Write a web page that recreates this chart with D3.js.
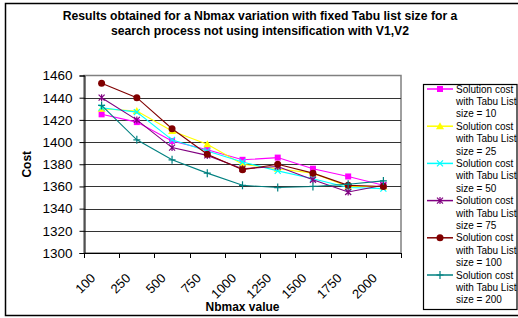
<!DOCTYPE html>
<html><head><meta charset="utf-8">
<script src="https://cdn.jsdelivr.net/npm/d3@7"></script>
<style>
body{margin:0;background:#fff}
svg{display:block}
text{font-family:"Liberation Sans",Arial,sans-serif;fill:#000}
</style></head>
<body><svg id="chart" width="518" height="318"></svg>
<script>
const categories = ["100","250","500","750","1000","1250","1500","1750","2000"];
const size10  = [1425,1418,1401,1393,1384,1386,1376,1369,1361];
const size25  = [1430,1428,1410,1398,1380,1376,1372,1360,1360];
const size50  = [1431,1427,1402,1392,1382,1374,1367,1359,1358];
const size75  = [1440,1420,1395,1388,1376,1378,1366,1355,1361];
const size100 = [1453,1440,1412,1389,1375,1380,1372,1361,1360];
const size200 = [1433,1402,1384,1372,1361,1359,1360,1362,1365];
const seriesLabels = ["size = 10","size = 25","size = 50","size = 75","size = 100","size = 200"];
const yTicks = [1300,1320,1340,1360,1380,1400,1420,1440,1460];
const titleLines = ["Results obtained for a Nbmax variation with fixed Tabu list size for a",
                    "search process not using intensification with V1,V2"];

const series = [
  {values:size10,  color:"#FF00FF", marker:"square"},
  {values:size25,  color:"#FFFF00", marker:"triangle"},
  {values:size50,  color:"#00FFFF", marker:"x"},
  {values:size75,  color:"#800080", marker:"star"},
  {values:size100, color:"#800000", marker:"circle"},
  {values:size200, color:"#008080", marker:"plus"}
].map((s,i)=>({...s,label:seriesLabels[i]}));

const svg = d3.select("#chart");
// outer chart border
svg.append("rect").attr("x",5.5).attr("y",3.5).attr("width",600).attr("height",312)
  .attr("fill","#fff").attr("stroke","#000").attr("stroke-width",1.5);

const x = d3.scaleBand().domain(categories).range([84,401]).padding(0);
const y = d3.scaleLinear().domain([1300,1460]).range([253,75.5]);

// plot area border
svg.append("rect").attr("x",84).attr("y",y(1460)).attr("width",401-84).attr("height",y(1300)-y(1460))
  .attr("fill","#fff").attr("stroke","#808080").attr("stroke-width",1.5);

// gridlines
svg.append("g").selectAll("line").data(yTicks.filter(d=>d>1300 && d<1460)).join("line")
  .attr("x1",84).attr("x2",401).attr("y1",d=>Math.round(y(d))+0.5).attr("y2",d=>Math.round(y(d))+0.5)
  .attr("stroke","#333").attr("stroke-width",1);

// y axis
const ya = svg.append("g").attr("transform","translate(84.5,0)")
  .call(d3.axisLeft(y).tickValues(yTicks).tickSize(5).tickPadding(7).tickFormat(d3.format("d")));
ya.select(".domain").attr("stroke","#000");
ya.selectAll(".tick line").attr("stroke","#000");
ya.selectAll("text").attr("font-size",13.5).attr("font-family","Liberation Sans, Arial, sans-serif");

// x axis line
svg.append("line").attr("x1",84).attr("x2",401).attr("y1",253.5).attr("y2",253.5).attr("stroke","#000");
const bounds = categories.map(c=>x(c)).concat([x.range()[1]]);
svg.append("g").selectAll("line").data(bounds).join("line")
  .attr("x1",d=>Math.round(d)+0.5).attr("x2",d=>Math.round(d)+0.5).attr("y1",253).attr("y2",258)
  .attr("stroke","#000");
svg.append("g").selectAll("text").data(categories).join("text")
  .attr("transform",d=>`translate(${x(d)+x.bandwidth()/2-5.5},279) rotate(-45)`)
  .attr("text-anchor","end").attr("font-size",13).text(d=>d);

// axis titles
svg.append("text").attr("x",(84+401)/2).attr("y",311).attr("text-anchor","middle")
  .attr("font-weight","bold").attr("font-size",12).text("Nbmax value");
svg.append("text").attr("transform",`translate(31,${(y(1300)+y(1460))/2}) rotate(-90)`)
  .attr("text-anchor","middle").attr("font-weight","bold").attr("font-size",12).text("Cost");

// title
svg.append("g").selectAll("text").data(titleLines).join("text")
  .attr("x",260).attr("y",(d,i)=>19.5+i*15).attr("text-anchor","middle")
  .attr("font-weight","bold").attr("font-size",12.2).text(d=>d);

function drawMarker(g, type, color){
  if(type==="square") g.append("rect").attr("x",-3).attr("y",-3).attr("width",6).attr("height",6).attr("fill",color);
  else if(type==="triangle") g.append("path").attr("d","M0,-4L4,3L-4,3Z").attr("fill",color);
  else if(type==="circle") g.append("circle").attr("r",3.5).attr("fill",color);
  else if(type==="x") g.append("path").attr("d","M-3,-3L3,3M-3,3L3,-3").attr("stroke",color).attr("stroke-width",1.2);
  else if(type==="star") g.append("path").attr("d","M-3,-3L3,3M-3,3L3,-3M0,-3.5L0,3.5").attr("stroke",color).attr("stroke-width",1.2);
  else if(type==="plus") g.append("path").attr("d","M-3.5,0L3.5,0M0,-4L0,4").attr("stroke",color).attr("stroke-width",1.2);
}

const line = d3.line().x((d,i)=>x(categories[i])+x.bandwidth()/2).y(d=>y(d));
series.forEach(s=>{
  const g = svg.append("g");
  g.append("path").attr("d",line(s.values)).attr("fill","none").attr("stroke",s.color).attr("stroke-width",1.1);
  s.values.forEach((v,i)=>{
    const m = g.append("g").attr("transform",`translate(${x(categories[i])+x.bandwidth()/2},${y(v)})`);
    drawMarker(m,s.marker,s.color);
  });
});

// legend
const lg = svg.append("g");
lg.append("rect").attr("x",423.5).attr("y",84.5).attr("width",93.5).attr("height",225)
  .attr("fill","#fff").attr("stroke","#000").attr("stroke-width",1.2);
const lineH = 12.4;
series.forEach((s,i)=>{
  const cy = 89 + i*3*lineH;
  lg.append("line").attr("x1",427).attr("x2",453).attr("y1",cy).attr("y2",cy).attr("stroke",s.color).attr("stroke-width",1.5);
  const m = lg.append("g").attr("transform",`translate(440,${cy})`);
  drawMarker(m,s.marker,s.color);
  ["Solution cost","with Tabu List",s.label].forEach((t,k)=>{
    lg.append("text").attr("x",456).attr("y",cy+k*lineH+3.6).attr("font-size",10).text(t);
  });
});
</script></body></html>
